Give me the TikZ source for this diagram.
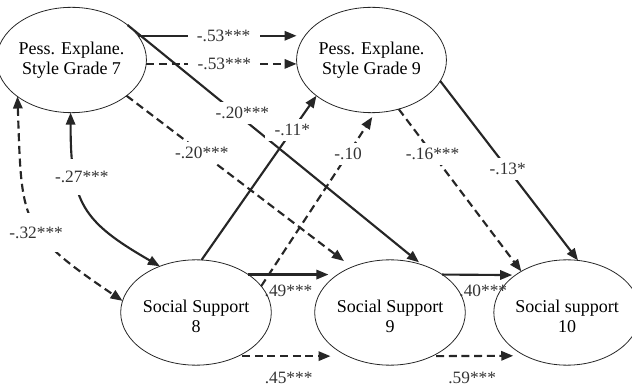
\documentclass[tikz,border=0pt]{standalone}
\usepackage{fontspec}
\setmainfont{Liberation Serif}
\usepackage{tikz}
\usetikzlibrary{shapes.geometric,arrows.meta}

\begin{document}
\begin{tikzpicture}[x=0.75pt,y=-0.75pt,
    latent/.style={draw=black!85, line width=0.6pt, ellipse, minimum width=98pt,
        minimum height=79pt, inner sep=0pt, outer sep=0pt, align=center,
        font=\fontsize{13.5}{15}\selectfont},
    effect/.style={draw=black!85, line width=1.6pt, -{Triangle[length=9pt,width=7pt]}},
    corr/.style={effect, {Triangle[length=9pt,width=7pt]}-{Triangle[length=9pt,width=7pt]}},
    dash line/.style={dash pattern=on 6pt off 3.5pt},
    coef/.style={fill=white, text=black!80, inner xsep=7pt, inner ysep=4pt,
        font=\fontsize{13}{15}\selectfont},
    coefbelow/.style={text=black!80, inner sep=1pt, font=\fontsize{13}{15}\selectfont}]
    \useasboundingbox (0,0) rectangle (632,388);

    % latent variables
    \node[latent] (p7) at (71.5,60) {Pess. Explane.\\Style Grade 7};
    \node[latent] (p9) at (371.5,60) {Pess. Explane.\\Style Grade 9};
    \node[latent] (s8) at (196,312.5) {\rule{0pt}{15pt}Social Support\\8};
    \node[latent] (s9) at (390,312.5) {\rule{0pt}{15pt}Social Support\\9};
    \node[latent] (s10) at (567,312.5) {\rule{0pt}{15pt}Social support\\10};

    % correlations at grade 7/8
    \draw[corr] (p7.-91) to[out=-90,in=150,looseness=1.3]
        node[coef,inner ysep=9pt,pos=.3,xshift=5pt] {-.27***} (s8.128);
    \draw[corr,dash line] (p7.214) to[out=-88,in=146,looseness=1.4]
        node[coef,inner ysep=10pt,pos=.585,xshift=-3pt] {-.32***} (s8.171);

    % stability paths
    \draw[effect] (p7.20) -- (p7.20 -| p9.west) node[coef,pos=.54] {-.53***};
    \draw[effect,dash line] (p7.-3) -- (p7.-3 -| p9.west) node[coef,pos=.52] {-.53***};
    \draw[effect,shorten >=7pt] (s8.36) -- (s9.144) node[coefbelow,below=6pt,pos=.45] {.49***};
    \draw[effect,dash line,shorten <=3pt,shorten >=13pt] (s8.-46) -- (s9.226)
        node[coefbelow,below=10pt,pos=.46] {.45***};
    \draw[effect,shorten >=2.5pt] (s9.36) -- (s10.144) node[coefbelow,below=6pt,pos=.56] {.40***};
    \draw[effect,dash line,shorten <=3pt,shorten >=9pt] (s9.-46) -- (s10.226)
        node[coefbelow,below=10pt,pos=.43] {.59***};

    % cross-lagged paths
    \draw[effect,shorten >=3pt] (p7.32) -- (s9.56) node[coef,pos=.39,yshift=4pt] {-.20***};
    \draw[effect,dash line,shorten >=7.5pt] (p7.-33) -- (s9.130) node[coef,pos=.334] {-.20***};
    \draw[effect] (s8.84) -- (p9.213) node[coef,pos=.79] {-.11*};
    \draw[effect,dash line,shorten >=4pt] (s8.22) -- (p9.-86) node[coef,pos=.763] {-.10};
    \draw[effect,dash line] (p9.-61.5) -- (s10.138) node[coef,pos=.276] {-.16***};
    \draw[effect] (p9.-17) -- (s10.78) node[coef,pos=.49] {-.13*};
\end{tikzpicture}
\end{document}
